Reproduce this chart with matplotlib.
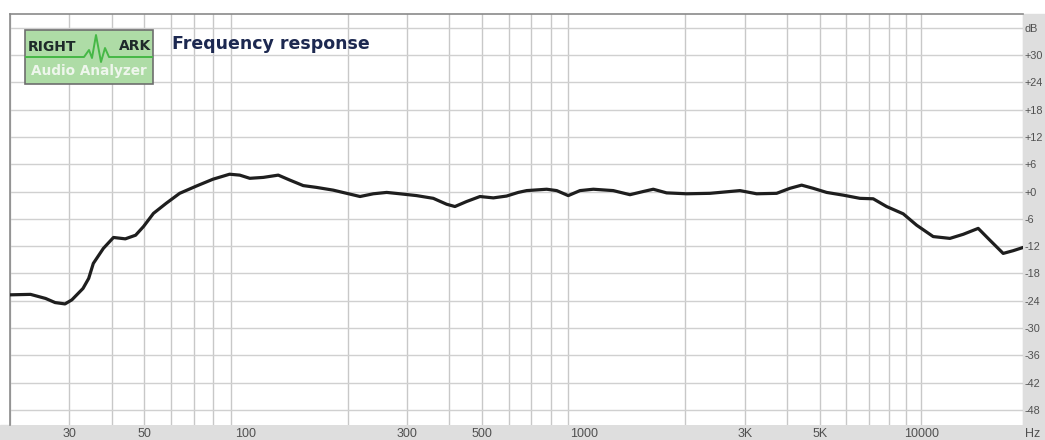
#!/usr/bin/env python3
"""
Frequency response plot in the style of RightMark Audio Analyzer.
"""

import matplotlib
matplotlib.use("Agg")
import matplotlib.pyplot as plt
from matplotlib.patches import Rectangle

# measured response (Hz, dB)
freq_hz = [20, 23, 25.5, 27.2, 29.1, 30.5, 32.9, 34.2, 35.3, 37.8, 40.5, 43.9,
           47.1, 49.7, 53.2, 58.0, 63.6, 71.3, 79.8, 89.4, 95.8, 102.6, 112.5,
           124.6, 134.9, 147.7, 161.8, 181.2, 198.6, 217.6, 238.2, 261, 285.6,
           320, 358.6, 392.8, 415.6, 450, 493, 540, 591, 640, 678, 777, 832,
           900, 975, 1068, 1223, 1371, 1501, 1607, 1760, 2018, 2364, 2902,
           3252, 3727, 4080, 4420, 4784, 5242, 5870, 6578, 7202, 7889, 8836,
           9683, 10840, 12150, 13306, 14736, 15960, 17472, 18708, 20000]
level_db = [-22.7, -22.6, -23.5, -24.4, -24.7, -23.8, -21.3, -19.1, -15.8,
            -12.5, -10.1, -10.4, -9.6, -7.7, -4.8, -2.6, -0.4, 1.2, 2.7, 3.8,
            3.6, 2.9, 3.1, 3.6, 2.5, 1.3, 0.9, 0.3, -0.4, -1.1, -0.5, -0.2,
            -0.5, -0.9, -1.5, -2.8, -3.3, -2.2, -1.1, -1.4, -1.0, -0.2, 0.2,
            0.5, 0.2, -0.9, 0.2, 0.5, 0.2, -0.7, 0.0, 0.5, -0.3, -0.5, -0.4,
            0.2, -0.5, -0.4, 0.7, 1.4, 0.7, -0.2, -0.8, -1.5, -1.6, -3.3, -4.9,
            -7.4, -9.9, -10.3, -9.4, -8.1, -10.7, -13.6, -13.0, -12.3]

x_ticks = [30, 50, 100, 300, 500, 1000, 3000, 5000, 10000]
x_labels = ["30", "50", "100", "300", "500", "1000", "3K", "5K", "10000"]
y_ticks = [-48, -42, -36, -30, -24, -18, -12, -6, 0, 6, 12, 18, 24, 30, 36]
y_labels = ["-48", "-42", "-36", "-30", "-24", "-18", "-12", "-6", "+0", "+6",
            "+12", "+18", "+24", "+30", "dB"]
grid_minor = ([f * 10 for f in range(2, 10)] + [f * 100 for f in range(2, 10)]
              + [f * 1000 for f in range(2, 10)] + [f * 10000 for f in range(1, 3)])

W, H = 1045, 440
STRIP = "#dedede"
TXT = "#505050"
LBL_FONT = ["Liberation Sans", "DejaVu Sans"]

fig = plt.figure(figsize=(W / 100, H / 100), dpi=100)
fig.patch.set_facecolor("white")

# gray label strips (right and bottom)
fig.add_artist(Rectangle((1023 / W, 0), 22 / W, (H - 14) / H,
                         transform=fig.transFigure, color=STRIP, zorder=0))
fig.add_artist(Rectangle((0, 0), 1, 15 / H,
                         transform=fig.transFigure, color=STRIP, zorder=0))

ax = fig.add_axes([10 / W, 15 / H, 1013 / W, (425 - 14) / H])
ax.set_xscale("log")
ax.set_xlim(20, 20000)
ax.set_ylim(-51.3, 39.0)

for f in grid_minor:
    ax.axvline(f, color="#c8c8c8", lw=1.0, zorder=1)
for y in y_ticks:
    ax.axhline(y, color="#d0d0d0", lw=1.0, zorder=1)

ax.plot(freq_hz, level_db, color="#1e1e1e", lw=2.3, zorder=3,
        solid_capstyle="round", solid_joinstyle="round")

ax.set_xticks(x_ticks)
ax.set_xticklabels(x_labels)
ax.xaxis.set_minor_locator(matplotlib.ticker.NullLocator())
ax.set_yticks(y_ticks)
ax.set_yticklabels(y_labels)
ax.yaxis.tick_right()
ax.tick_params(axis="x", length=0, labelsize=9, labelcolor=TXT, pad=2)
ax.tick_params(axis="y", length=0, labelsize=7.8, labelcolor=TXT, pad=1)
for lab in ax.get_xticklabels() + ax.get_yticklabels():
    lab.set_family(LBL_FONT)

for side in ("right", "bottom"):
    ax.spines[side].set_visible(False)
for side in ("left", "top"):
    ax.spines[side].set_color("#8a8a8a")
    ax.spines[side].set_linewidth(1.2)

fig.text(1033 / W, 1 - 434 / H, "Hz", ha="center", va="center", fontsize=9,
         color=TXT, family=LBL_FONT)

# RightMark logo badge
bx0, by0, bx1, by1 = 25, 30, 153, 84
fig.add_artist(Rectangle((bx0 / W, 1 - by1 / H), (bx1 - bx0) / W, (by1 - by0) / H,
                         transform=fig.transFigure, facecolor="#aedca6",
                         edgecolor="#6e6e6e", lw=1.2, zorder=5))
wave_x = [26, 84, 89, 92, 96, 101, 105, 109, 152]
wave_y = [57, 57, 50, 58, 35, 62, 48, 57, 57]
fig.add_artist(plt.Line2D([x / W for x in wave_x], [1 - y / H for y in wave_y],
                          transform=fig.transFigure, color="#46b846", lw=1.4,
                          zorder=6))
fig.text(28 / W, 1 - 47 / H, "RIGHT", ha="left", va="center", fontsize=10,
         fontweight="bold", color="#1e2a2a", zorder=7)
fig.text(151 / W, 1 - 46 / H, "ARK", ha="right", va="center", fontsize=10,
         fontweight="bold", color="#1e2a2a", zorder=7)
fig.text(89 / W, 1 - 71 / H, "Audio Analyzer", ha="center", va="center",
         fontsize=9.8, fontweight="bold", color="#eef6ec", zorder=7)

fig.text(172 / W, 1 - 44 / H, "Frequency response", ha="left", va="center",
         fontsize=12.5, fontweight="bold", color="#1c2850")

fig.savefig("out.png", dpi=100)
